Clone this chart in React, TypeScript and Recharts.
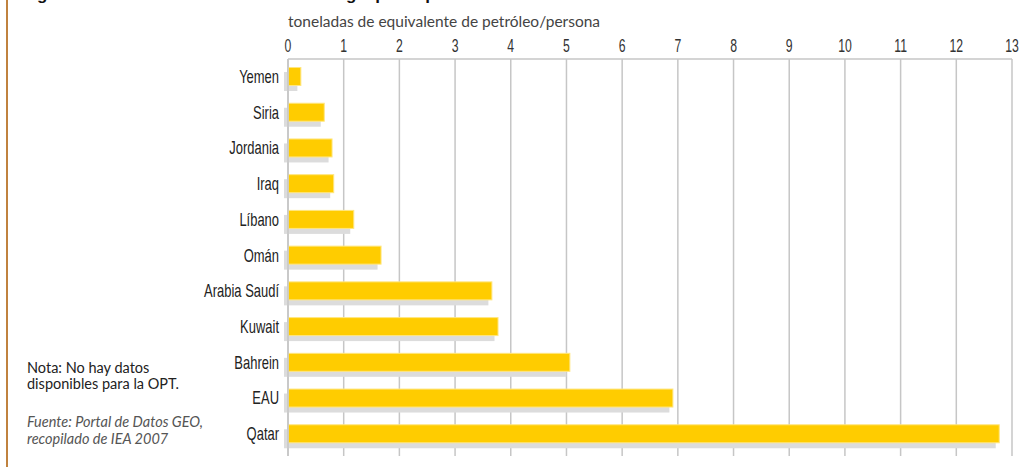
import { BarChart, Bar, XAxis, YAxis, CartesianGrid } from 'recharts'

const countries = ['Yemen', 'Siria', 'Jordania', 'Iraq', 'Líbano', 'Omán', 'Arabia Saudí', 'Kuwait', 'Bahrein', 'EAU', 'Qatar']
const consumption = [0.24, 0.66, 0.8, 0.83, 1.19, 1.68, 3.67, 3.78, 5.07, 6.92, 12.78]
const xTicks = [0, 1, 2, 3, 4, 5, 6, 7, 8, 9, 10, 11, 12, 13]

const data = countries.map((name, i) => ({ name, value: consumption[i] }))

const GRID = '#c6c6c6'
const NARROW = "'Liberation Sans Narrow', 'Liberation Sans', sans-serif"

function ShadowBar(props: any) {
  const { x, y, width, height } = props
  if (!width) return null
  return (
    <g>
      <rect x={x - 4} y={y + 5} width={width} height={height} fill="#dcdcdc" />
      <rect x={x + 0.5} y={y + 0.5} width={width - 1} height={height - 1} fill="#ffcc00" stroke="#ffe680" strokeWidth={1} />
    </g>
  )
}

function NumTick({ x, y, payload }: any) {
  return (
    <g transform={`translate(${x},${y}) scale(0.68,1)`}>
      <text x={0} y={0} textAnchor="middle" fontFamily={NARROW} fontSize={18} fill="#333">
        {payload.value}
      </text>
    </g>
  )
}

function NameTick({ x, y, payload }: any) {
  return (
    <g transform={`translate(${x},${y + 6}) scale(0.72,1)`}>
      <text x={0} y={0} textAnchor="end" fontFamily={NARROW} fontSize={18} fill="#222">
        {payload.value}
      </text>
    </g>
  )
}

export default function App() {
  return (
    <div style={{ position: 'absolute', left: 0, top: 0, width: 1020, height: 467, overflow: 'hidden', background: '#fff' }}>
      <div style={{ position: 'absolute', left: 6, top: 0, width: 2, height: 467, background: '#c0823f' }} />
      <div style={{
        position: 'absolute', left: 22, top: -14, lineHeight: '17px', whiteSpace: 'nowrap',
        fontFamily: "'Liberation Sans', sans-serif", fontWeight: 700, fontSize: 17, color: '#111',
      }}>
        Figura 6.10: Consumo total final de energía per cápita
      </div>
      <div style={{
        position: 'absolute', left: 288, top: 12, whiteSpace: 'nowrap',
        fontFamily: "Lato, 'Noto Sans', sans-serif", fontSize: 15.5, color: '#444',
      }}>
        toneladas de equivalente de petróleo/persona
      </div>
      <div style={{
        position: 'absolute', left: 27, top: 360, lineHeight: '16px',
        fontFamily: "Lato, 'Noto Sans', sans-serif", fontSize: 14.5, color: '#222',
      }}>
        Nota: No hay datos<br />disponibles para la OPT.
      </div>
      <div style={{
        position: 'absolute', left: 27, top: 413, lineHeight: '17px',
        fontFamily: "Lato, 'Noto Sans', sans-serif", fontSize: 14.5, fontStyle: 'italic', color: '#555',
      }}>
        Fuente: Portal de Datos GEO,<br />recopilado de IEA 2007
      </div>
      <div style={{ position: 'absolute', left: 0, top: 0 }}>
        <BarChart
          width={1020}
          height={467}
          data={data}
          layout="vertical"
          margin={{ top: 0, right: 8, left: 0, bottom: 11 }}
        >
          <CartesianGrid horizontal={false} stroke={GRID} strokeWidth={1.5} />
          <XAxis
            type="number"
            orientation="top"
            domain={[0, 13]}
            ticks={xTicks}
            height={59}
            axisLine={{ stroke: GRID, strokeWidth: 1.5 }}
            tickLine={false}
            tickSize={0}
            tickMargin={7}
            tick={<NumTick />}
            interval={0}
          />
          <XAxis
            xAxisId="b"
            type="number"
            orientation="bottom"
            domain={[0, 13]}
            height={0}
            axisLine={{ stroke: GRID, strokeWidth: 1.5 }}
            tick={false}
            tickLine={false}
          />
          <YAxis
            type="category"
            dataKey="name"
            width={288}
            axisLine={{ stroke: GRID, strokeWidth: 1.5 }}
            tickLine={false}
            tickSize={0}
            tickMargin={9}
            tick={<NameTick />}
            interval={0}
            padding={{ top: 0, bottom: 4 }}
          />
          <Bar dataKey="value" barSize={19} shape={<ShadowBar />} isAnimationActive={false} />
        </BarChart>
      </div>
    </div>
  )
}
